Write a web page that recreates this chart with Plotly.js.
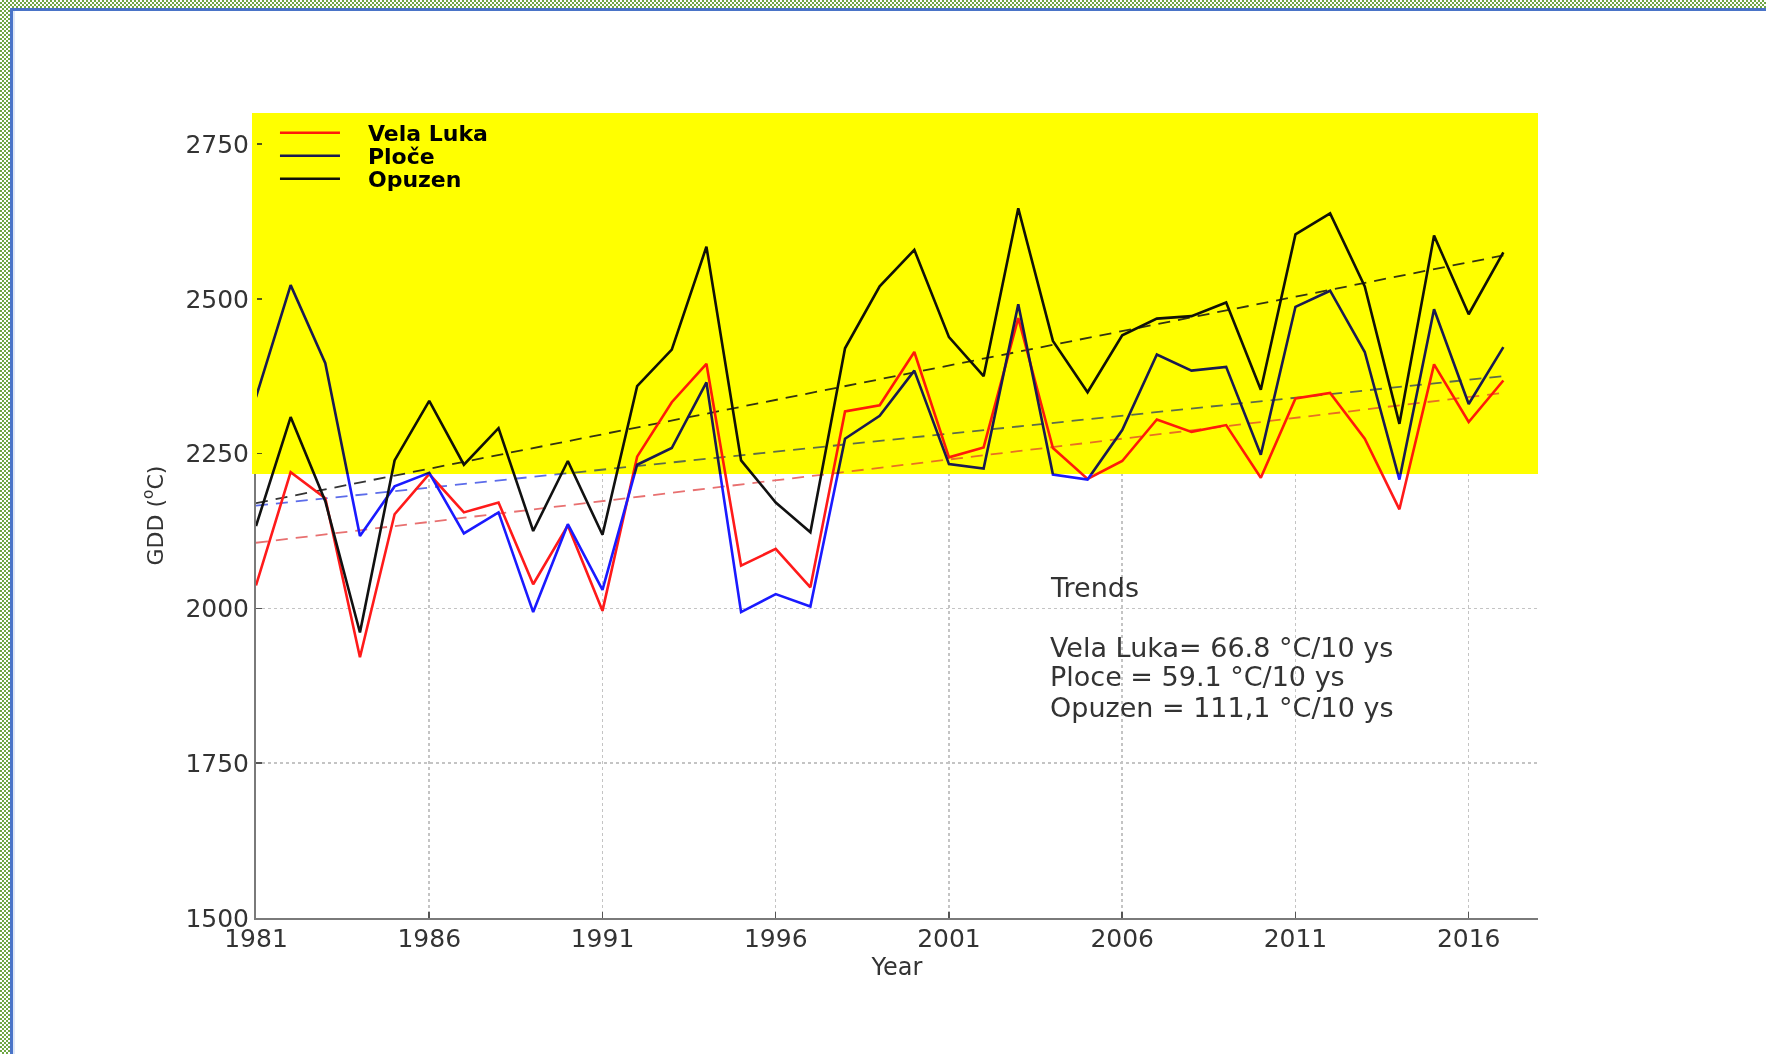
<!DOCTYPE html>
<html>
<head>
<meta charset="utf-8">
<script src="https://cdn.plot.ly/plotly-3.0.1.min.js"></script>
<style>
  html, body { margin: 0; padding: 0; background: #ffffff; }
  #wrap { position: relative; width: 1766px; height: 1054px; overflow: hidden; background: #ffffff; }
  #chart { position: absolute; left: 0; top: 0; width: 1766px; height: 1054px; }
  #tint { position: absolute; z-index: 5; pointer-events: none; display: none;
    background: rgb(255,255,80); mix-blend-mode: multiply; }
  .checker { position: absolute; z-index: 10;
    background-image: repeating-conic-gradient(#6ea644 0% 25%, #ffffff 0% 50%);
    background-size: 4px 4px; }
  .bluebar { position: absolute; z-index: 11; background: #4a74c8; }
  .softbar { position: absolute; z-index: 11; background: #dfe8f7; }
</style>
</head>
<body>
<div id="wrap">
  <div id="chart"></div>
  <div id="tint"></div>
  <div class="checker" style="left:0;top:0;width:1766px;height:8px;"></div>
  <div class="checker" style="left:0;top:0;width:10px;height:1054px;"></div>
  <div class="bluebar" style="left:10px;top:8px;width:1756px;height:3px;"></div>
  <div class="bluebar" style="left:10px;top:8px;width:3px;height:1046px;"></div>
  <div class="softbar" style="left:13px;top:11px;width:2px;height:1043px;"></div>
</div>
<script>
// ---- data ----
const years = [1981,1982,1983,1984,1985,1986,1987,1988,1989,1990,1991,1992,1993,1994,1995,1996,1997,1998,1999,2000,2001,2002,2003,2004,2005,2006,2007,2008,2009,2010,2011,2012,2013,2014,2015,2016,2017];

const velaLuka = [2037,2220,2178,1921,2152,2217,2155,2171,2039,2134,1996,2245,2333,2395,2069,2096,2034,2318,2328,2414,2244,2260,2469,2259,2209,2238,2305,2285,2296,2211,2339,2348,2274,2160,2394,2301,2368];

const ploce = [2341,2522,2396,2117,2197,2219,2121,2155,1994,2136,2030,2232,2259,2365,1994,2023,2003,2274,2311,2384,2233,2226,2491,2216,2208,2288,2410,2384,2390,2248,2487,2513,2414,2208,2483,2330,2422];

const opuzen = [2133,2309,2173,1961,2239,2335,2232,2291,2125,2238,2119,2359,2418,2584,2239,2171,2123,2420,2520,2579,2438,2375,2646,2432,2349,2441,2468,2472,2494,2353,2604,2638,2520,2298,2602,2475,2575];

// linear trend lines (end points)
const trendYears = [1981, 2017];
const trendVelaLuka = [2106, 2348];
const trendPloce = [2166, 2375];
const trendOpuzen = [2170, 2570];

const seriesNames = ["Vela Luka", "Ploče", "Opuzen"];
const trendTexts = [
  "Trends",
  "Vela Luka= 66.8 °C/10 ys",
  "Ploce = 59.1 °C/10 ys",
  "Opuzen = 111,1 °C/10 ys"
];
const yTickVals = [1500, 1750, 2000, 2250, 2500, 2750];
const xTickVals = [1981, 1986, 1991, 1996, 2001, 2006, 2011, 2016];

// highlighted band (yellow)
const bandLow = 2217, bandHigh = 2800;
const xRange = [1981, 2018], yRange = [1500, 2800];

// ---- styles ----
const cRed = "#ff1a1a", cBlue = "#1a1aff", cBlack = "#111111";
const cRedDash = "#e87070", cBlueDash = "#5c6cea", cBlackDash = "#333333";
const FONT = "DejaVu Sans, Verdana, sans-serif";
const PAD = "\u00a0\u00a0\u00a0";

function trend(y, color) {
  return { x: trendYears, y: y, type: "scatter", mode: "lines", showlegend: false,
           hoverinfo: "skip", line: { color: color, width: 1.8, dash: "12px,8px" } };
}
function series(y, name, color, legendId) {
  return { x: years, y: y, name: PAD + name, type: "scatter", mode: "lines",
           legend: legendId, line: { color: color, width: 2.6 } };
}

const data = [
  trend(trendVelaLuka, cRedDash),
  trend(trendPloce, cBlueDash),
  trend(trendOpuzen, cBlackDash),
  series(velaLuka, seriesNames[0], cRed, "legend"),
  series(ploce, seriesNames[1], cBlue, "legend2"),
  series(opuzen, seriesNames[2], cBlack, "legend3")
];

const textX = 0.618;
const textY = [0.41, 0.336, 0.2995, 0.2617];
const annotations = trendTexts.map((t, i) => ({
  text: t, xref: "paper", yref: "paper", x: textX, y: textY[i],
  xanchor: "left", yanchor: "middle", showarrow: false,
  font: { family: FONT, size: 27, color: "#333333" }
}));

function legendAt(y) {
  return {
    x: 0.0148, y: y, xanchor: "left", yanchor: "middle",
    bgcolor: "rgba(0,0,0,0)", borderwidth: 0, itemwidth: 60,
    font: { family: FONT, size: 22, color: "#000000", weight: "bold" }
  };
}

const layout = {
  width: 1766, height: 1054,
  margin: { l: 256, r: 228, t: 113, b: 136 },
  paper_bgcolor: "#ffffff", plot_bgcolor: "#ffffff",
  font: { family: FONT, color: "#333333" },
  showlegend: true,
  legend: legendAt(0.9752),
  legend2: legendAt(0.9466),
  legend3: legendAt(0.918),
  xaxis: {
    range: xRange, tickvals: xTickVals, ticktext: xTickVals.map(String),
    showline: true, linecolor: "#7a7a7a", linewidth: 2,
    ticks: "inside", ticklen: 6, tickwidth: 1.5, tickcolor: "#555555",
    ticklabelstandoff: -3,
    showgrid: true, gridcolor: "#c4c4c4", gridwidth: 1.5, griddash: "dot",
    zeroline: false,
    tickfont: { family: FONT, size: 25, color: "#333333" },
    title: { text: "Year", font: { family: FONT, size: 24, color: "#333333" }, standoff: 0 }
  },
  yaxis: {
    range: yRange, tickvals: yTickVals, ticktext: yTickVals.map(String),
    showline: true, linecolor: "#7a7a7a", linewidth: 2,
    ticks: "inside", ticklen: 6, tickwidth: 1.5, tickcolor: "#555555",
    showgrid: true, gridcolor: "#c4c4c4", gridwidth: 1.5, griddash: "dot",
    zeroline: false,
    tickfont: { family: FONT, size: 25, color: "#333333" },
    title: { text: "GDD (<sup>o</sup>C)", font: { family: FONT, size: 22, color: "#333333" }, standoff: 16 }
  },
  shapes: [
    { type: "rect", xref: "x", yref: "y", x0: xRange[0], x1: xRange[1], y0: bandLow, y1: bandHigh,
      fillcolor: "#ffff00", line: { width: 0 }, layer: "between" },
    // the highlight also hides the y axis line inside the band
    { type: "rect", xref: "paper", yref: "y", xsizemode: "pixel", xanchor: 0, x0: -4, x1: 1,
      y0: bandLow, y1: bandHigh, fillcolor: "#ffff00", line: { width: 0 }, layer: "above" }
  ],
  annotations: annotations
};

Plotly.newPlot("chart", data, layout, { staticPlot: true, displayModeBar: false }).then(gd => {
  // the yellow highlight of the original acts like a multiply overlay: lines under it darken
  const xa = gd._fullLayout.xaxis, ya = gd._fullLayout.yaxis;
  const left = xa._offset + xa.l2p(xRange[0]);
  const right = xa._offset + xa.l2p(xRange[1]);
  const top = ya._offset + ya.l2p(bandHigh);
  const bottom = ya._offset + ya.l2p(bandLow);
  const tint = document.getElementById("tint");
  tint.style.left = (left - 4) + "px";
  tint.style.top = top + "px";
  tint.style.width = (right - left + 4) + "px";
  tint.style.height = (bottom - top) + "px";
  tint.style.display = "block";
});
</script>
</body>
</html>
